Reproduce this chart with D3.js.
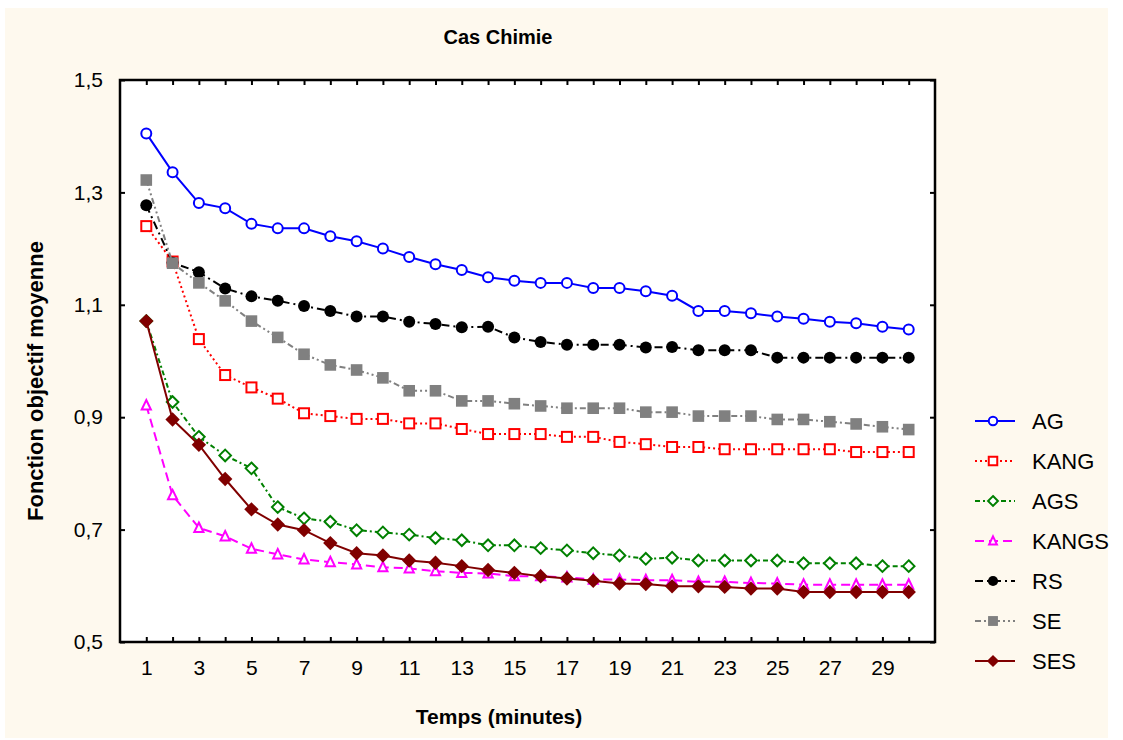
<!DOCTYPE html>
<html>
<head>
<meta charset="utf-8">
<script src="https://cdn.jsdelivr.net/npm/d3@7"></script>
<style>
  html, body { margin: 0; padding: 0; background: #ffffff; }
  svg { display: block; }
  text { font-family: "Liberation Sans", Arial, sans-serif; fill: #000; }
</style>
</head>
<body>
<svg id="chart" width="1123" height="740"></svg>
<script>
// Time steps (minutes)
const minutes = d3.range(1, 31);

// Mean objective value per algorithm
const AG = [1.405, 1.336, 1.281, 1.272, 1.244, 1.236, 1.236, 1.222, 1.213, 1.200,
            1.185, 1.172, 1.162, 1.149, 1.143, 1.139, 1.139, 1.130, 1.130, 1.124,
            1.116, 1.089, 1.089, 1.085, 1.079, 1.075, 1.070, 1.067, 1.061, 1.056];
const KANG = [1.240, 1.177, 1.039, 0.975, 0.953, 0.933, 0.907, 0.902, 0.897, 0.897,
              0.889, 0.889, 0.879, 0.870, 0.870, 0.870, 0.865, 0.865, 0.856, 0.852,
              0.847, 0.847, 0.843, 0.843, 0.843, 0.843, 0.843, 0.838, 0.838, 0.838];
const AGS = [1.071, 0.927, 0.865, 0.832, 0.809, 0.740, 0.720, 0.714, 0.699, 0.695,
             0.691, 0.685, 0.681, 0.672, 0.672, 0.667, 0.663, 0.658, 0.654, 0.648,
             0.650, 0.645, 0.645, 0.645, 0.645, 0.640, 0.640, 0.640, 0.635, 0.635];
const KANGS = [0.921, 0.761, 0.703, 0.688, 0.666, 0.656, 0.647, 0.642, 0.638, 0.633,
               0.631, 0.626, 0.623, 0.622, 0.617, 0.617, 0.615, 0.611, 0.611, 0.610,
               0.610, 0.607, 0.607, 0.605, 0.604, 0.602, 0.602, 0.602, 0.602, 0.602];
const RS = [1.277, 1.175, 1.158, 1.129, 1.115, 1.107, 1.098, 1.089, 1.079, 1.079,
            1.070, 1.066, 1.060, 1.061, 1.042, 1.034, 1.029, 1.029, 1.029, 1.024,
            1.025, 1.019, 1.019, 1.019, 1.006, 1.006, 1.006, 1.006, 1.006, 1.006];
const SE = [1.322, 1.174, 1.139, 1.107, 1.071, 1.042, 1.012, 0.993, 0.984, 0.970,
            0.947, 0.947, 0.929, 0.929, 0.924, 0.920, 0.916, 0.916, 0.916, 0.909,
            0.909, 0.902, 0.902, 0.902, 0.896, 0.896, 0.892, 0.888, 0.883, 0.878];
const SES = [1.071, 0.896, 0.851, 0.790, 0.736, 0.709, 0.699, 0.676, 0.658, 0.654,
             0.645, 0.641, 0.635, 0.628, 0.623, 0.617, 0.613, 0.609, 0.604, 0.603,
             0.599, 0.599, 0.598, 0.595, 0.595, 0.589, 0.589, 0.589, 0.589, 0.589];

// Axis tick values and labels
const yTicks = [0.5, 0.7, 0.9, 1.1, 1.3, 1.5];
const xTickMarks = d3.range(1, 31);

const titleText = "Cas Chimie";
const xTitle = "Temps (minutes)";
const yTitle = "Fonction objectif moyenne";

// Series appearance
const seriesDefs = [
  { name: "AG",    values: AG,    color: "#0000ff", dash: null,            symbol: "circle",   filled: false },
  { name: "KANG",  values: KANG,  color: "#ff0000", dash: "2,3",           symbol: "square",   filled: false },
  { name: "AGS",   values: AGS,   color: "#008000", dash: "5,3,2,3",       symbol: "diamond",  filled: false },
  { name: "KANGS", values: KANGS, color: "#ff00ff", dash: "9,5",           symbol: "triangle", filled: false },
  { name: "RS",    values: RS,    color: "#000000", dash: "8,4,2,4",       symbol: "circle",   filled: true  },
  { name: "SE",    values: SE,    color: "#808080", dash: "6,3,2,3,2,3",   symbol: "square",   filled: true  },
  { name: "SES",   values: SES,   color: "#800000", dash: null,            symbol: "diamond",  filled: true  }
];

const W = 1123, H = 740;
const plot = { left: 120, right: 935, top: 80, bottom: 642 };

const svg = d3.select("#chart");

// Page background
svg.append("rect").attr("x", 5).attr("y", 8).attr("width", W - 20).attr("height", H - 10)
  .attr("fill", "#fef9ee");

const x = d3.scaleLinear().domain([0, 31]).range([plot.left, plot.right]);
const y = d3.scaleLinear().domain([0.5, 1.5]).range([plot.bottom, plot.top]);

// Plot area
svg.append("rect")
  .attr("x", plot.left).attr("y", plot.top)
  .attr("width", plot.right - plot.left).attr("height", plot.bottom - plot.top)
  .attr("fill", "#ffffff");

// Axes: bottom labels, inward ticks on all four sides
const tickLen = 5;
const axisFont = "21px";

const gBottom = svg.append("g").attr("transform", `translate(0,${plot.bottom})`)
  .call(d3.axisBottom(x).tickValues(xTickMarks).tickSizeInner(-tickLen).tickSizeOuter(0)
    .tickFormat(d => (d % 2 === 1 ? d3.format("d")(d) : "")).tickPadding(18));
const gTop = svg.append("g").attr("transform", `translate(0,${plot.top})`)
  .call(d3.axisTop(x).tickValues(xTickMarks).tickSizeInner(-tickLen).tickSizeOuter(0).tickFormat(""));
const commaFmt = d => d3.format(".1f")(d).replace(".", ",");
const gLeft = svg.append("g").attr("transform", `translate(${plot.left},0)`)
  .call(d3.axisLeft(y).tickValues(yTicks).tickSizeInner(-tickLen).tickSizeOuter(0)
    .tickFormat(commaFmt).tickPadding(17));
const gRight = svg.append("g").attr("transform", `translate(${plot.right},0)`)
  .call(d3.axisRight(y).tickValues(yTicks).tickSizeInner(-tickLen).tickSizeOuter(0).tickFormat(""));

[gBottom, gTop, gLeft, gRight].forEach(g => {
  g.select(".domain").remove();
  g.selectAll(".tick line").attr("stroke", "#000").attr("stroke-width", 2);
  g.selectAll(".tick text").attr("font-size", axisFont)
    .attr("font-family", "'Liberation Sans', Arial, sans-serif").attr("fill", "#000");
});

// Plot frame
svg.append("rect")
  .attr("x", plot.left).attr("y", plot.top)
  .attr("width", plot.right - plot.left).attr("height", plot.bottom - plot.top)
  .attr("fill", "none").attr("stroke", "#000").attr("stroke-width", 2.5);

// Marker drawing
function drawMarker(g, s, cx, cy, scale) {
  const k = scale || 1;
  const fill = s.filled ? s.color : "#ffffff";
  const sw = s.filled ? 0 : 2;
  let m;
  if (s.symbol === "circle") {
    m = g.append("circle").attr("cx", cx).attr("cy", cy).attr("r", (s.filled ? 6 : 5) * k);
  } else if (s.symbol === "square") {
    const h = (s.filled ? 5.8 : 5) * k;
    m = g.append("rect").attr("x", cx - h).attr("y", cy - h).attr("width", 2 * h).attr("height", 2 * h);
  } else if (s.symbol === "diamond") {
    const h = (s.filled ? 7.2 : 5.8) * k;
    m = g.append("path").attr("d", `M${cx},${cy - h}L${cx + h},${cy}L${cx},${cy + h}L${cx - h},${cy}Z`);
  } else {
    const h = 5.4 * k;
    m = g.append("path").attr("d", `M${cx},${cy - h}L${cx + h * 0.85},${cy + h * 0.75}L${cx - h * 0.85},${cy + h * 0.75}Z`);
  }
  m.attr("fill", fill).attr("stroke", s.color).attr("stroke-width", sw);
}

const line = d3.line().x(d => x(d[0])).y(d => y(d[1]));

seriesDefs.forEach(s => {
  const pts = minutes.map((m, i) => [m, s.values[i]]);
  const g = svg.append("g").attr("class", "series");
  g.append("path").datum(pts)
    .attr("d", line)
    .attr("fill", "none")
    .attr("stroke", s.color)
    .attr("stroke-width", 2)
    .attr("stroke-dasharray", s.dash);
  pts.forEach(p => drawMarker(g, s, x(p[0]), y(p[1])));
});

// Legend
const legend = svg.append("g").attr("class", "legend");
seriesDefs.forEach((s, i) => {
  const ly = 421 + i * 40;
  legend.append("line").attr("x1", 975).attr("x2", 1015).attr("y1", ly).attr("y2", ly)
    .attr("stroke", s.color).attr("stroke-width", 2).attr("stroke-dasharray", s.dash);
  drawMarker(legend, s, 993, ly, 0.85);
  legend.append("text").attr("x", 1032).attr("y", ly).attr("dy", "0.36em")
    .attr("font-size", "22px").text(s.name);
});

// Titles
svg.append("text").attr("x", 498).attr("y", 44).attr("text-anchor", "middle")
  .attr("font-size", "20px").attr("font-weight", "bold").text(titleText);
svg.append("text").attr("x", 499).attr("y", 724).attr("text-anchor", "middle")
  .attr("font-size", "21px").attr("font-weight", "bold").text(xTitle);
svg.append("text").attr("transform", "translate(43,381) rotate(-90)").attr("text-anchor", "middle")
  .attr("font-size", "22px").attr("font-weight", "bold").text(yTitle);
</script>
</body>
</html>
